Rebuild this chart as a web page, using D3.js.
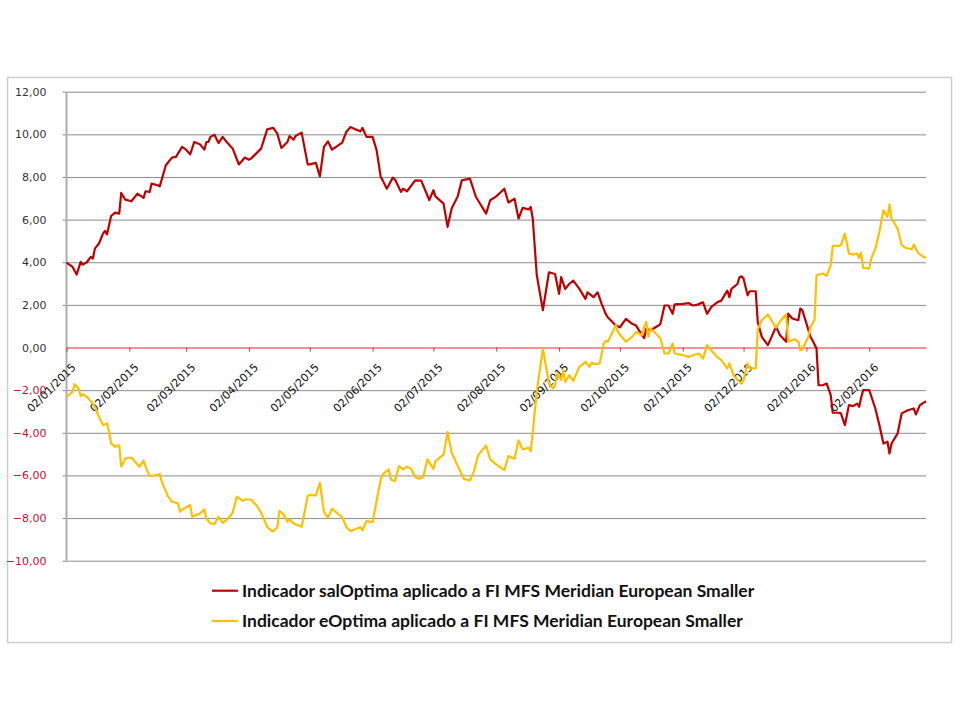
<!DOCTYPE html>
<meta charset="utf-8">
<style>
    body { margin: 0; background: #fff; }
    .axis text { font-family: "DejaVu Sans", sans-serif; font-size: 11px; }
    .legend text { font-family: Lato, sans-serif; font-size: 17.5px; font-weight: 700; fill: #111; }
</style>
<body>
<div id="chart"></div>
<script src="https://cdn.jsdelivr.net/npm/d3@7"></script>
<script>
// salOptima series (red)
var salDates = ["2015-01-02","2015-01-05","2015-01-07","2015-01-09","2015-01-10","2015-01-12","2015-01-14","2015-01-15","2015-01-16","2015-01-18",
    "2015-01-20","2015-01-21","2015-01-22","2015-01-24","2015-01-26","2015-01-28","2015-01-29","2015-01-31","2015-02-03","2015-02-06",
    "2015-02-09","2015-02-10","2015-02-12","2015-02-13","2015-02-16","2015-02-17","2015-02-20","2015-02-23","2015-02-25","2015-02-28",
    "2015-03-02","2015-03-04","2015-03-06","2015-03-09","2015-03-11","2015-03-12","2015-03-13","2015-03-14","2015-03-16","2015-03-18",
    "2015-03-20","2015-03-22","2015-03-25","2015-03-28","2015-03-31","2015-04-02","2015-04-03","2015-04-08","2015-04-11","2015-04-14",
    "2015-04-16","2015-04-18","2015-04-21","2015-04-22","2015-04-24","2015-04-25","2015-04-28","2015-05-01","2015-05-02","2015-05-05",
    "2015-05-07","2015-05-09","2015-05-11","2015-05-13","2015-05-18","2015-05-20","2015-05-22","2015-05-25","2015-05-27","2015-05-28",
    "2015-05-30","2015-06-02","2015-06-04","2015-06-06","2015-06-07","2015-06-09","2015-06-12","2015-06-13","2015-06-16","2015-06-17",
    "2015-06-19","2015-06-23","2015-06-26","2015-06-30","2015-07-02","2015-07-03","2015-07-07","2015-07-09","2015-07-11","2015-07-14",
    "2015-07-16","2015-07-20","2015-07-23","2015-07-28","2015-07-30","2015-08-02","2015-08-06","2015-08-08","2015-08-11","2015-08-13",
    "2015-08-15","2015-08-18","2015-08-19","2015-08-20","2015-08-22","2015-08-25","2015-08-28","2015-08-31","2015-09-02","2015-09-03",
    "2015-09-05","2015-09-07","2015-09-09","2015-09-12","2015-09-15","2015-09-16","2015-09-19","2015-09-21","2015-09-23","2015-09-25",
    "2015-09-26","2015-09-30","2015-10-02","2015-10-05","2015-10-08","2015-10-10","2015-10-13","2015-10-14","2015-10-15","2015-10-17",
    "2015-10-21","2015-10-22","2015-10-24","2015-10-26","2015-10-28","2015-10-29","2015-11-02","2015-11-05","2015-11-07","2015-11-09",
    "2015-11-12","2015-11-14","2015-11-16","2015-11-19","2015-11-21","2015-11-24","2015-11-25","2015-11-26","2015-11-29","2015-11-30",
    "2015-12-01","2015-12-02","2015-12-04","2015-12-05","2015-12-08","2015-12-09","2015-12-11","2015-12-14","2015-12-18","2015-12-20",
    "2015-12-23","2015-12-24","2015-12-26","2015-12-29","2015-12-30","2015-12-31","2016-01-02","2016-01-04","2016-01-05","2016-01-07",
    "2016-01-08","2016-01-10","2016-01-12","2016-01-14","2016-01-15","2016-01-18","2016-01-19","2016-01-21","2016-01-23","2016-01-25",
    "2016-01-27","2016-01-28","2016-01-29","2016-01-30","2016-02-02","2016-02-05","2016-02-07","2016-02-09","2016-02-11","2016-02-12",
    "2016-02-13","2016-02-16","2016-02-18","2016-02-21","2016-02-24","2016-02-25","2016-02-27","2016-03-01"];
var salValues = [3.98,3.78,3.42,4.02,3.89,4.00,4.25,4.17,4.64,4.88,
    5.34,5.47,5.31,6.17,6.33,6.28,7.25,6.94,6.86,7.22,
    7.02,7.33,7.30,7.69,7.61,7.56,8.55,8.91,8.94,9.41,
    9.28,9.06,9.64,9.52,9.28,9.64,9.64,9.88,9.98,9.59,
    9.88,9.64,9.33,8.59,8.91,8.81,8.86,9.33,10.23,10.30,
    10.03,9.36,9.64,9.92,9.75,9.92,10.08,8.59,8.59,8.66,
    8.03,9.41,9.67,9.28,9.61,10.11,10.34,10.22,10.14,10.30,
    9.88,9.88,9.25,8.00,7.84,7.45,7.97,7.89,7.30,7.45,
    7.33,7.84,7.83,6.91,7.38,7.09,6.75,5.66,6.52,7.09,
    7.84,7.92,7.06,6.28,6.91,7.09,7.45,6.80,6.98,6.05,
    6.55,6.48,6.59,6.05,3.39,1.75,3.53,3.45,2.52,3.30,
    2.75,2.98,3.14,2.75,2.28,2.59,2.36,2.59,2.05,1.58,
    1.42,1.03,0.95,1.34,1.11,1.03,0.56,0.45,0.88,0.80,
    1.03,1.11,1.97,1.97,1.58,2.02,2.05,2.08,1.97,2.00,
    2.12,1.58,1.89,2.12,2.20,2.67,2.36,2.75,2.98,3.30,
    3.34,3.23,2.45,2.64,2.64,1.20,0.50,0.11,0.97,0.58,
    0.27,1.59,1.36,1.28,1.83,1.75,1.13,0.50,0.34,-0.05,
    -1.77,-1.77,-1.69,-2.23,-3.06,-3.06,-3.09,-3.64,-2.70,-2.75,
    -2.63,-2.78,-2.36,-2.00,-2.00,-2.86,-3.64,-4.50,-4.42,-4.97,
    -4.50,-4.03,-3.09,-2.94,-2.86,-3.14,-2.70,-2.52];

// eOptima series (yellow)
var eDates = ["2015-01-02","2015-01-05","2015-01-06","2015-01-08","2015-01-09","2015-01-10","2015-01-12","2015-01-15","2015-01-16","2015-01-18",
    "2015-01-20","2015-01-22","2015-01-23","2015-01-24","2015-01-26","2015-01-28","2015-01-29","2015-01-31","2015-02-03","2015-02-07",
    "2015-02-09","2015-02-10","2015-02-12","2015-02-15","2015-02-17","2015-02-18","2015-02-21","2015-02-23","2015-02-26","2015-02-27",
    "2015-03-01","2015-03-04","2015-03-05","2015-03-09","2015-03-11","2015-03-12","2015-03-14","2015-03-16","2015-03-18","2015-03-20",
    "2015-03-22","2015-03-25","2015-03-27","2015-03-30","2015-03-31","2015-04-03","2015-04-06","2015-04-08","2015-04-11","2015-04-13",
    "2015-04-14","2015-04-16","2015-04-17","2015-04-19","2015-04-21","2015-04-22","2015-04-24","2015-04-28","2015-04-29","2015-05-01",
    "2015-05-02","2015-05-05","2015-05-07","2015-05-09","2015-05-11","2015-05-13","2015-05-16","2015-05-18","2015-05-20","2015-05-22",
    "2015-05-25","2015-05-27","2015-05-28","2015-05-30","2015-06-02","2015-06-03","2015-06-06","2015-06-07","2015-06-10","2015-06-11",
    "2015-06-13","2015-06-15","2015-06-17","2015-06-19","2015-06-21","2015-06-23","2015-06-25","2015-06-27","2015-06-29","2015-07-02",
    "2015-07-03","2015-07-07","2015-07-09","2015-07-11","2015-07-14","2015-07-17","2015-07-20","2015-07-22","2015-07-24","2015-07-28",
    "2015-07-30","2015-08-02","2015-08-06","2015-08-08","2015-08-11","2015-08-13","2015-08-15","2015-08-18","2015-08-19","2015-08-20",
    "2015-08-22","2015-08-25","2015-08-28","2015-08-30","2015-08-31","2015-09-01","2015-09-03","2015-09-04","2015-09-05","2015-09-07",
    "2015-09-09","2015-09-12","2015-09-15","2015-09-17","2015-09-18","2015-09-20","2015-09-22","2015-09-24","2015-09-25","2015-09-26",
    "2015-09-28","2015-09-30","2015-10-01","2015-10-05","2015-10-08","2015-10-10","2015-10-13","2015-10-14","2015-10-15","2015-10-16",
    "2015-10-17","2015-10-19","2015-10-22","2015-10-24","2015-10-26","2015-10-28","2015-10-29","2015-11-02","2015-11-05","2015-11-07",
    "2015-11-10","2015-11-12","2015-11-14","2015-11-16","2015-11-19","2015-11-21","2015-11-24","2015-11-25","2015-11-27","2015-11-29",
    "2015-12-01","2015-12-02","2015-12-04","2015-12-05","2015-12-08","2015-12-09","2015-12-11","2015-12-14","2015-12-18","2015-12-20",
    "2015-12-23","2015-12-24","2015-12-27","2015-12-29","2015-12-30","2015-12-31","2016-01-03","2016-01-04","2016-01-06","2016-01-07",
    "2016-01-10","2016-01-12","2016-01-14","2016-01-15","2016-01-18","2016-01-19","2016-01-21","2016-01-23","2016-01-25","2016-01-27",
    "2016-01-28","2016-01-29","2016-01-30","2016-02-02","2016-02-03","2016-02-05","2016-02-07","2016-02-09","2016-02-11","2016-02-12",
    "2016-02-13","2016-02-16","2016-02-18","2016-02-20","2016-02-23","2016-02-24","2016-02-26","2016-02-28","2016-03-01"];
var eValues = [-2.31,-2.08,-1.72,-1.92,-2.28,-2.19,-2.31,-2.63,-2.78,-3.25,
    -3.64,-3.56,-3.95,-4.50,-4.66,-4.58,-5.59,-5.20,-5.16,-5.59,
    -5.31,-5.59,-6.03,-5.98,-5.94,-6.30,-6.97,-7.23,-7.31,-7.70,
    -7.55,-7.39,-7.94,-7.78,-7.59,-8.02,-8.25,-8.28,-7.94,-8.22,
    -8.09,-7.75,-7.00,-7.19,-7.13,-7.13,-7.44,-7.75,-8.41,-8.59,
    -8.61,-8.44,-7.66,-7.81,-8.17,-8.06,-8.25,-8.41,-7.94,-6.95,
    -6.92,-6.94,-6.34,-7.72,-7.98,-7.56,-7.80,-7.95,-8.42,-8.61,
    -8.50,-8.42,-8.58,-8.14,-8.19,-7.67,-6.19,-5.95,-5.72,-6.19,
    -6.27,-5.56,-5.72,-5.59,-5.69,-6.08,-6.16,-6.06,-5.25,-5.69,
    -5.33,-5.02,-3.97,-4.94,-5.56,-6.16,-6.23,-5.80,-5.06,-4.59,
    -5.25,-5.48,-5.75,-5.09,-5.22,-4.36,-4.78,-4.70,-4.86,-4.00,
    -2.05,-0.06,-1.69,-1.92,-1.77,-1.22,-1.53,-1.06,-1.61,-1.30,
    -1.56,-0.91,-0.67,-0.91,-0.72,-0.78,-0.75,0.19,0.31,0.27,
    0.66,1.05,0.73,0.27,0.50,0.73,0.58,0.97,1.20,0.50,
    0.89,0.73,0.42,-0.28,-0.28,0.19,-0.28,-0.36,-0.44,-0.36,
    -0.28,-0.52,0.11,-0.13,-0.44,-0.59,-0.98,-0.75,-1.30,-1.53,
    -1.69,-1.53,-0.75,-0.98,-0.98,0.85,1.28,1.55,0.93,1.23,
    1.55,0.27,0.39,0.27,-0.13,-0.08,0.50,0.97,1.28,3.39,
    3.47,3.36,3.86,4.77,4.77,4.80,5.34,4.41,4.36,4.41,
    4.20,4.44,3.73,3.70,4.17,4.64,5.42,6.44,6.13,6.70,
    6.05,5.58,4.80,4.67,4.61,4.83,4.45,4.30,4.20];

var yTicks = [-10, -8, -6, -4, -2, 0, 2, 4, 6, 8, 10, 12];
var xTickDates = ["2015-01-02","2015-02-02","2015-03-02","2015-04-02","2015-05-02","2015-06-02","2015-07-02",
    "2015-08-02","2015-09-02","2015-10-02","2015-11-02","2015-12-02","2016-01-02","2016-02-02"];
var xDomain = ["2015-01-02", "2016-03-01"];
var seriesNames = ["Indicador salOptima aplicado a FI MFS Meridian European Smaller",
    "Indicador eOptima aplicado a FI MFS Meridian European Smaller"];
var seriesColors = ["#c00000", "#ffc000"];

var parse = d3.timeParse("%Y-%m-%d");

var svg = d3.select("#chart").append("svg")
    .attr("width", 960)
    .attr("height", 720);

// chart frame
svg.append("rect")
    .attr("x", 7.5).attr("y", 77.5)
    .attr("width", 944).attr("height", 565)
    .attr("fill", "#fff")
    .attr("stroke", "#cfcfcf")
    .attr("stroke-width", 1.5);

var x = d3.scaleTime()
    .domain(xDomain.map(parse))
    .range([66.5, 926]);

var y = d3.scaleLinear()
    .domain([-10, 12])
    .range([560.7, 91.7]);

var fmt = function (d) { return d3.format(".2f")(d).replace(".", ","); };

// gridlines + y labels
var yAxis = svg.append("g")
    .attr("class", "y axis")
    .attr("transform", "translate(66.5,0)")
    .call(d3.axisLeft(y).tickValues(yTicks).tickFormat(fmt).tickSizeOuter(0).tickPadding(14));
yAxis.select(".domain").remove();
yAxis.selectAll(".tick line")
    .attr("x1", -4)
    .attr("x2", 926 - 66.5)
    .attr("stroke", "#8c8c8c")
    .attr("stroke-width", 1)
    .attr("stroke-opacity", function (d) { return d === 0 ? 0 : 1; });
yAxis.selectAll(".tick text")
    .attr("fill", function (d) { return d < 0 ? "#c8102e" : "#333"; });

// vertical axis line
svg.append("line")
    .attr("x1", 66.5).attr("x2", 66.5)
    .attr("y1", y(12)).attr("y2", y(-10))
    .attr("stroke", "#adadad")
    .attr("stroke-width", 2);

// series lines
var line = d3.line()
    .x(function (d) { return x(d.date); })
    .y(function (d) { return y(d.value); });

var series = [
    salDates.map(function (d, i) { return { date: parse(d), value: salValues[i] }; }),
    eDates.map(function (d, i) { return { date: parse(d), value: eValues[i] }; })
];

// horizontal axis at zero
var xAxis = svg.append("g")
    .attr("class", "x axis")
    .attr("transform", "translate(0," + y(0) + ")")
    .call(d3.axisBottom(x).tickValues(xTickDates.map(parse))
        .tickFormat(d3.timeFormat("%d/%m/%Y")).tickSizeInner(4).tickSizeOuter(0));
xAxis.select(".domain").attr("stroke", "#e0283a").attr("stroke-width", 1.2);
xAxis.selectAll(".tick line").attr("stroke", "#e0283a");
xAxis.selectAll(".tick text")
    .attr("x", 0).attr("y", 0).attr("dy", 0)
    .attr("fill", "#111")
    .attr("transform", "translate(9.5,20.5) rotate(-45)")
    .style("text-anchor", "end");

svg.selectAll(".series")
    .data(series)
    .enter().append("path")
    .attr("class", "series")
    .attr("d", line)
    .attr("fill", "none")
    .attr("stroke", function (d, i) { return seriesColors[i]; })
    .attr("stroke-width", 2.2)
    .attr("stroke-linejoin", "round");

// legend
var legend = svg.selectAll(".legend")
    .data(seriesNames)
    .enter().append("g")
    .attr("class", "legend")
    .attr("transform", function (d, i) { return "translate(212," + (590.7 + i * 30.3) + ")"; });

legend.append("line")
    .attr("x1", 0).attr("x2", 26)
    .attr("stroke", function (d, i) { return seriesColors[i]; })
    .attr("stroke-width", 2.2);

legend.append("text")
    .attr("x", 30)
    .attr("y", 6.2)
    .text(function (d) { return d; });
</script>
</body>
